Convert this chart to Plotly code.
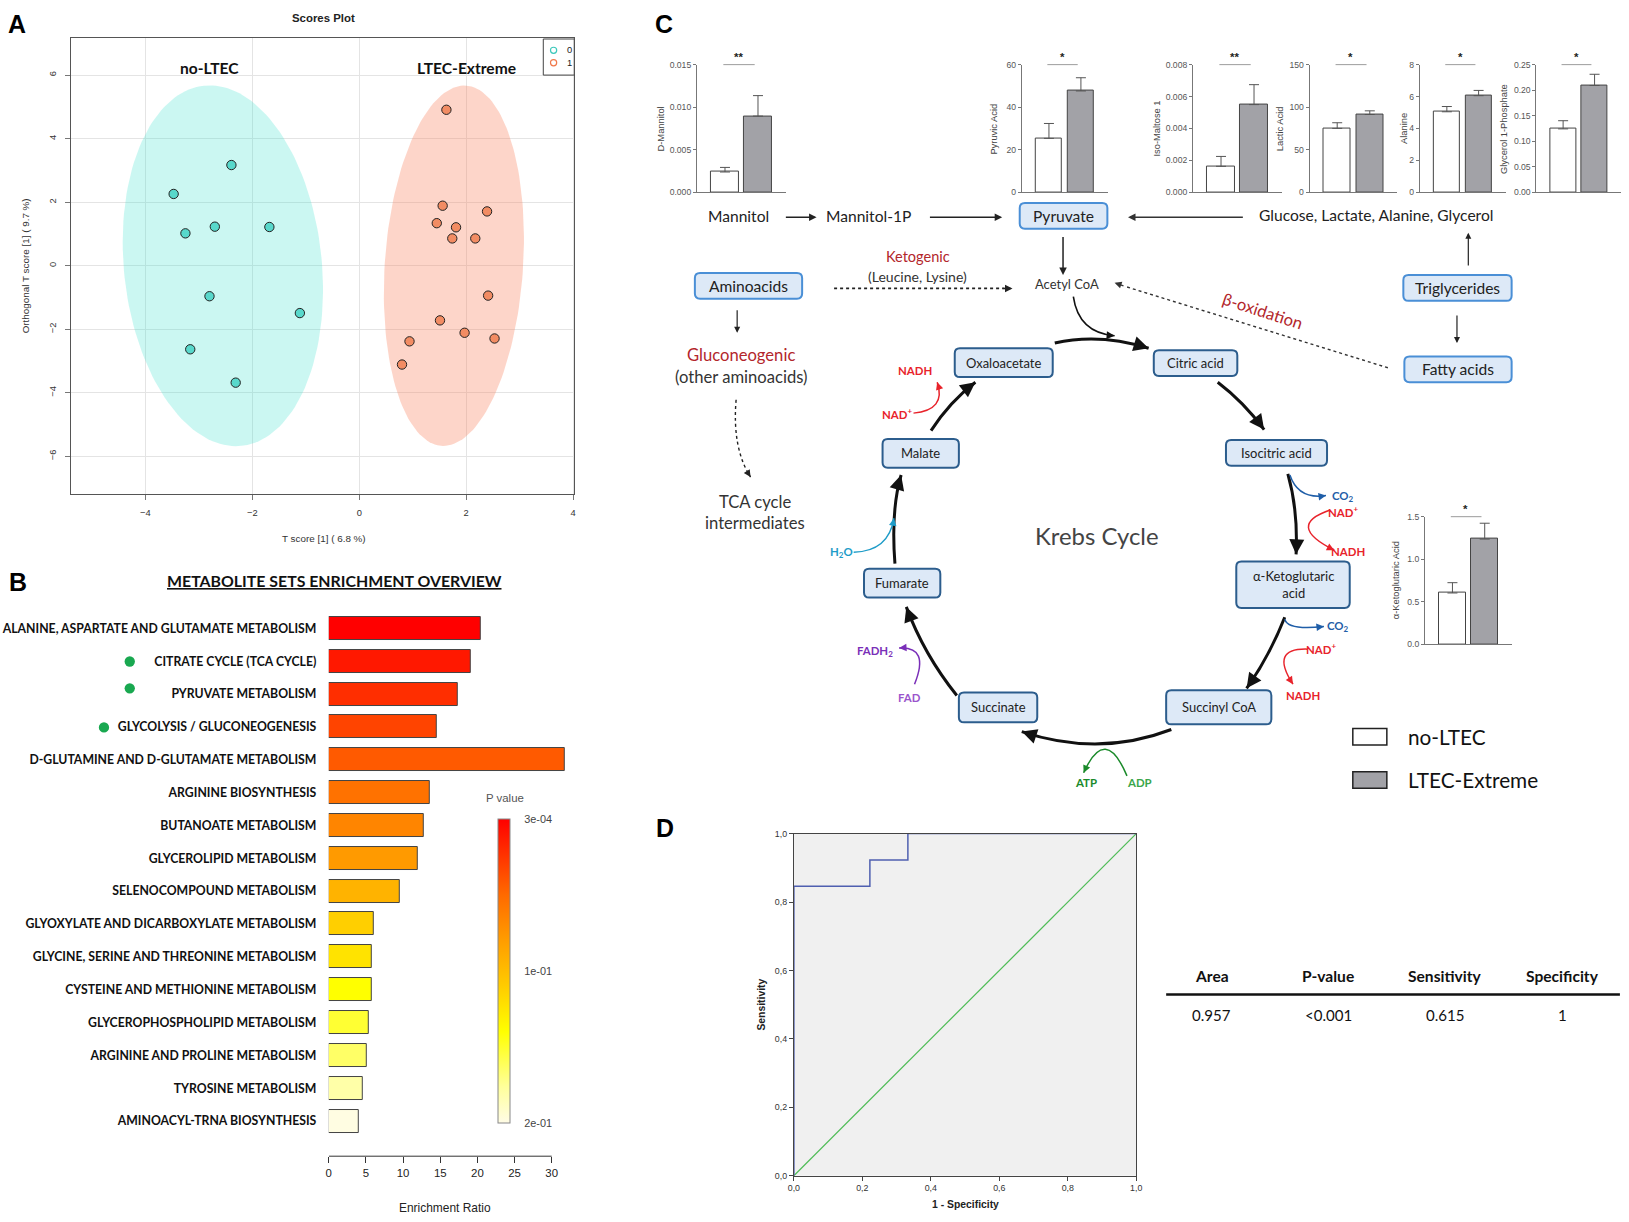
import math
import numpy as np
import plotly.graph_objects as go

W, H = 1629, 1222
W0, H0 = 1568.0, 1176.0
S = W / W0


def X(x):
    return x / W0


def Y(y):
    return 1.0 - y / H0


def fs(v):
    return v * S


def cl(v):
    return min(1.0, max(0.0, v))


SANS = "Liberation Sans, Arial, sans-serif"
LATO = "Lato, 'Open Sans', sans-serif"

# ---------------- Panel A data (OPLS-DA scores) ----------------
a_noltec_x = [-2.39, -3.47, -3.25, -2.70, -1.68, -2.80, -1.11, -3.16, -2.31]
a_noltec_y = [3.17, 2.26, 1.02, 1.23, 1.22, -0.96, -1.49, -2.63, -3.68]
a_ltec_x = [1.63, 1.56, 2.39, 1.45, 1.81, 1.74, 2.17, 2.41, 1.51, 1.97, 0.94, 2.53, 0.80]
a_ltec_y = [4.91, 1.89, 1.71, 1.34, 1.21, 0.86, 0.86, -0.94, -1.72, -2.11, -2.38, -2.29, -3.11]
# confidence ellipses: centre, major half-axis vector, minor half-axis vector
ell_noltec = dict(c=(-2.55, 0.0), a=(-0.35, 5.67), b=(1.84, 0.32))
ell_ltec = dict(c=(1.77, 0.0), a=(0.23, 5.67), b=(1.29, -0.15))

# ---------------- Panel B data (enrichment) ----------------
b_sets = [
    "ALANINE, ASPARTATE AND GLUTAMATE METABOLISM",
    "CITRATE CYCLE (TCA CYCLE)",
    "PYRUVATE METABOLISM",
    "GLYCOLYSIS / GLUCONEOGENESIS",
    "D-GLUTAMINE AND D-GLUTAMATE METABOLISM",
    "ARGININE BIOSYNTHESIS",
    "BUTANOATE METABOLISM",
    "GLYCEROLIPID METABOLISM",
    "SELENOCOMPOUND METABOLISM",
    "GLYOXYLATE AND DICARBOXYLATE METABOLISM",
    "GLYCINE, SERINE AND THREONINE METABOLISM",
    "CYSTEINE AND METHIONINE METABOLISM",
    "GLYCEROPHOSPHOLIPID METABOLISM",
    "ARGININE AND PROLINE METABOLISM",
    "TYROSINE METABOLISM",
    "AMINOACYL-TRNA BIOSYNTHESIS",
]
b_ratio = [20.5, 19.1, 17.3, 14.6, 31.8, 13.6, 12.8, 12.0, 9.6, 6.0, 5.85, 5.85, 5.35, 5.05, 4.6, 4.0]
b_xticks = [0, 5, 10, 15, 20, 25, 30]
b_pval_ticktext = ["2e-01", "1e-01", "3e-04"]
b_bar_colors = ["#ff0000", "#ff1800", "#ff2e00", "#ff4400", "#ff5a00", "#ff7200", "#ff8500",
                "#ff9a00", "#ffb300", "#ffcf00", "#ffe300", "#ffff00", "#ffff33", "#ffff66",
                "#ffffa8", "#fffde2"]

# ---------------- Panel C data (mini bar charts) ----------------
c_metabolites = ["D-Mannitol", "Pyruvic Acid", "Iso-Maltose 1", "Lactic Acid", "Alanine",
                 "Glycerol 1-Phosphate", "α-Ketoglutaric Acid"]
c_groups = ["no-LTEC", "LTEC-Extreme"]
c_noltec_mean = [0.00237, 25.3, 0.00162, 75.0, 5.04, 0.124, 0.602]
c_noltec_err = [0.00054, 7.0, 0.00062, 6.6, 0.33, 0.016, 0.121]
c_ltec_mean = [0.00894, 47.6, 0.00549, 91.3, 6.05, 0.209, 1.236]
c_ltec_err = [0.00241, 6.2, 0.00125, 4.3, 0.33, 0.022, 0.186]
c_sig = ["**", "*", "**", "*", "*", "*", "*"]
c_ymax = [0.015, 60, 0.008, 150, 8, 0.25, 1.5]
c_dtick = [0.005, 20, 0.002, 50, 2, 0.05, 0.5]
c_tickformat = [".3f", "d", ".3f", "d", "d", ".2f", ".1f"]

# ---------------- Panel D data (ROC) ----------------
roc_fpr = [0.0, 0.0, 0.222, 0.333, 1.0]
roc_tpr = [0.0, 0.846, 0.923, 1.0, 1.0]
roc_ticks = [0, 0.2, 0.4, 0.6, 0.8, 1.0]
roc_ticktext = ["0,0", "0,2", "0,4", "0,6", "0,8", "1,0"]
tbl_headers = ["Area", "P-value", "Sensitivity", "Specificity"]
tbl_values = ["0.957", "<0.001", "0.615", "1"]

fig = go.Figure()
shapes = []
ann = []
axes = {}


def text(x, y, s, size, color="#222", family=LATO, bold=False, angle=0, xanchor="center", yanchor="middle"):
    ann.append(dict(x=X(x), y=Y(y), xref="paper", yref="paper",
                    text=f"<b>{s}</b>" if bold else s, showarrow=False,
                    font=dict(size=fs(size), color=color, family=family),
                    textangle=angle, xanchor=xanchor, yanchor=yanchor))


def arrow(x0, y0, x1, y1, color="#222", width=1.5, size=1.0, head=2):
    ann.append(dict(x=X(x1), y=Y(y1), xref="paper", yref="paper",
                    ax=(x0 - x1) * S, ay=(y0 - y1) * S, text="", showarrow=True,
                    arrowhead=head, arrowsize=size, arrowwidth=width, arrowcolor=color))


def line(x0, y0, x1, y1, color="#222", width=1.5, dash=None):
    shapes.append(dict(type="line", xref="paper", yref="paper", x0=X(x0), y0=Y(y0), x1=X(x1), y1=Y(y1),
                       line=dict(color=color, width=width, dash=dash)))


def curve(p0, c, p1, color="#222", width=1.5, head=True, size=1.0, dash=None, tail=4.0):
    path = f"M {X(p0[0])},{Y(p0[1])} Q {X(c[0])},{Y(c[1])} {X(p1[0])},{Y(p1[1])}"
    shapes.append(dict(type="path", path=path, xref="paper", yref="paper",
                       line=dict(color=color, width=width, dash=dash)))
    if head:
        dx, dy = c[0] - p1[0], c[1] - p1[1]
        L = math.hypot(dx, dy)
        k = tail / L
        arrow(p1[0] + dx * k, p1[1] + dy * k, p1[0], p1[1], color, width, size)


def rbox(x0, y0, x1, y1, label, size, border, bw, fill="#dde9f7", r=5, color="#222"):
    rx, ry = r / W0, r / H0
    a, b, c, d = X(x0), X(x1), Y(y0), Y(y1)
    path = (f"M {a+rx},{c} L {b-rx},{c} Q {b},{c} {b},{c-ry} L {b},{d+ry} Q {b},{d} {b-rx},{d} "
            f"L {a+rx},{d} Q {a},{d} {a},{d+ry} L {a},{c-ry} Q {a},{c} {a+rx},{c} Z")
    shapes.append(dict(type="path", path=path, xref="paper", yref="paper", fillcolor=fill,
                       line=dict(color=border, width=bw), layer="above"))
    text((x0 + x1) / 2, (y0 + y1) / 2, label, size, color)


# =================== Panel A ===================
def ellipse_xy(e, n=160):
    t = np.linspace(0, 2 * np.pi, n)
    xs = e["c"][0] + np.cos(t) * e["a"][0] + np.sin(t) * e["b"][0]
    ys = e["c"][1] + np.cos(t) * e["a"][1] + np.sin(t) * e["b"][1]
    return xs, ys


for e, col in [(ell_noltec, "rgba(64,224,208,0.27)"), (ell_ltec, "rgba(250,128,90,0.33)")]:
    ex, ey = ellipse_xy(e)
    fig.add_trace(go.Scatter(x=ex, y=ey, mode="lines", fill="toself", fillcolor=col,
                             line=dict(width=0), hoverinfo="skip", xaxis="x", yaxis="y"))
fig.add_trace(go.Scatter(x=a_noltec_x, y=a_noltec_y, mode="markers", xaxis="x", yaxis="y",
                         marker=dict(size=fs(9), color="#58d8cb", line=dict(color="#222", width=1))))
fig.add_trace(go.Scatter(x=a_ltec_x, y=a_ltec_y, mode="markers", xaxis="x", yaxis="y",
                         marker=dict(size=fs(9), color="#f28c63", line=dict(color="#222", width=1))))

axes["xaxis"] = dict(domain=[X(63), X(551)], range=[-5.39, 4.02], tickvals=[-4, -2, 0, 2, 4],
                     showgrid=True, gridcolor="#e4e4e4", zeroline=False, showline=True, mirror=True,
                     linecolor="#555", linewidth=1.2, ticks="outside", ticklen=5, tickcolor="#777",
                     ticklabelstandoff=5,
                     tickfont=dict(size=fs(9), family=SANS, color="#333"), anchor="y")
axes["yaxis"] = dict(domain=[Y(474), Y(32)], range=[-7.17, 7.17], tickvals=[-6, -4, -2, 0, 2, 4, 6],
                     tickangle=-90, showgrid=True, gridcolor="#e4e4e4", zeroline=False, showline=True,
                     mirror=True, linecolor="#555", linewidth=1.2, ticks="outside", ticklen=5,
                     ticklabelstandoff=5,
                     tickcolor="#777", tickfont=dict(size=fs(9), family=SANS, color="#333"), anchor="x")
text(11, 3, "A", 24, "#000", SANS, bold=True, yanchor="top")
text(308, 13, "Scores Plot", 11, "#222", SANS, bold=True)
text(197, 61, "no-LTEC", 15, "#111", LATO, bold=True)
text(447, 61, "LTEC-Extreme", 15, "#111", LATO, bold=True)
text(308, 518, "T score [1] ( 6.8 %)", 9.5, "#333", SANS)
text(19, 253, "Orthogonal T score [1] ( 9.7 %)", 9.5, "#333", SANS, angle=-90)
shapes.append(dict(type="rect", xref="paper", yref="paper", x0=X(521), x1=X(551), y0=Y(68), y1=Y(33),
                   line=dict(color="#444", width=1), fillcolor="white"))
for yy, col, lab in [(44, "#3cc8bb", "0"), (56, "#f0784a", "1")]:
    shapes.append(dict(type="circle", xref="paper", yref="paper", x0=X(528), x1=X(534), y0=Y(yy + 3), y1=Y(yy - 3),
                       line=dict(color=col, width=1.2)))
    text(542, yy, lab, 9, "#222", SANS, xanchor="left")

# =================== Panel B ===================
fig.add_trace(go.Bar(x=b_ratio, y=list(range(len(b_sets))), orientation="h", width=0.7,
                     marker=dict(color=b_bar_colors, line=dict(color="#444", width=1)),
                     xaxis="x2", yaxis="y2"))
fig.add_trace(go.Scatter(x=[0, 0], y=[0, 0], mode="markers", xaxis="x2", yaxis="y2", hoverinfo="skip",
                         marker=dict(size=1, opacity=0, color=[0, 1], cmin=0, cmax=1,
                                     colorscale=[[0, "#fffce6"], [0.12, "#ffff9a"], [0.3, "#ffff00"],
                                                 [0.45, "#ffcc00"], [0.6, "#ff9d00"], [0.75, "#ff6a00"],
                                                 [0.88, "#ff3300"], [1, "#ff0000"]],
                                     showscale=True,
                                     colorbar=dict(x=X(477), xanchor="left", y=Y(1085), yanchor="bottom",
                                                   len=Y(790) - Y(1085), lenmode="fraction",
                                                   thickness=12 * S, xpad=0, ypad=0,
                                                   outlinecolor="#888", outlinewidth=1,
                                                   tickvals=[0, 0.5, 1], ticktext=b_pval_ticktext,
                                                   ticks="outside", ticklen=12, tickcolor="rgba(0,0,0,0)",
                                                   tickfont=dict(size=fs(10.5), family=SANS, color="#444")))))
text(484, 769, "P value", 11, "#555", SANS)
axes["xaxis2"] = dict(domain=[X(313), X(545)], range=[0, 32.2], tickvals=b_xticks, showgrid=False,
                      zeroline=False, showline=False, ticks="outside", ticklen=6, tickcolor="#333",
                      tickfont=dict(size=fs(11), family=SANS, color="#222"), anchor="y2")
axes["yaxis2"] = dict(domain=[Y(1117), Y(589)], range=[16.07, -0.5], tickvals=list(range(len(b_sets))),
                      ticktext=b_sets, showgrid=False, zeroline=False, showline=False, ticks="outside",
                      ticklen=9, tickcolor="rgba(0,0,0,0)",
                      tickfont=dict(size=fs(11.8), family=LATO, color="#111", weight="bold"), anchor="x2")
shapes.append(dict(type="line", xref="x2", yref="paper", x0=0, x1=30, y0=Y(1117), y1=Y(1117),
                   line=dict(color="#333", width=1)))
for (cx, cy) in [(120, 637), (120, 663), (95, 701)]:
    shapes.append(dict(type="circle", xref="paper", yref="paper", x0=X(cx - 5), x1=X(cx + 5),
                       y0=Y(cy + 5), y1=Y(cy - 5), fillcolor="#19a850", line=dict(width=0)))
text(12, 544, "B", 24, "#000", SANS, bold=True, yanchor="top")
text(319, 558, "<u>METABOLITE SETS ENRICHMENT OVERVIEW</u>", 15.3, "#111", LATO, bold=True)
text(426, 1167, "Enrichment Ratio", 11.5, "#222", SANS)

# =================== Panel C mini bar charts ===================
mini_axis_x = [670, 985, 1151, 1264, 1371, 1484, 1376]
mini_spacing = [32, 31, 32, 31.6, 30.8, 30.5, 31.3]
mini_top = [57.8, 57.8, 57.8, 57.8, 57.8, 57.8, 496.4]
mini_h = 123.8
title_x = [635, 958, 1116, 1235, 1355, 1452, 1348]
title_y = [120, 120, 120, 120, 120, 120, 558]

for i, name in enumerate(c_metabolites):
    k = i + 3
    xa, ya = f"x{k}", f"y{k}"
    fig.add_trace(go.Bar(x=[0, 1], y=[c_noltec_mean[i], c_ltec_mean[i]], width=0.83,
                         marker=dict(color=["white", "#a2a2a7"], line=dict(color="#444", width=1)),
                         error_y=dict(type="data", symmetric=False, array=[c_noltec_err[i], c_ltec_err[i]],
                                      arrayminus=[0, 0], color="#555", thickness=1, width=5),
                         xaxis=xa, yaxis=ya))
    x0 = mini_axis_x[i]
    w = 2.7 * mini_spacing[i]
    top = mini_top[i]
    d0, d1 = X(x0), X(x0 + w)
    d1c = cl(d1)
    r1 = -0.85 + 2.7 * (d1c - d0) / (d1 - d0)
    axes[f"xaxis{k}"] = dict(domain=[d0, d1c], range=[-0.85, r1], showticklabels=False,
                             ticks="", showline=True, linecolor="#777", linewidth=1, showgrid=False,
                             zeroline=False, anchor=ya)
    axes[f"yaxis{k}"] = dict(domain=[Y(top + mini_h), Y(top)], range=[0, c_ymax[i]], dtick=c_dtick[i],
                             tickformat=c_tickformat[i], ticks="outside", ticklen=3, tickcolor="#777",
                             showline=True, linecolor="#777", linewidth=1, showgrid=False, zeroline=False,
                             tickfont=dict(size=fs(8.3), family=SANS, color="#555"), anchor=xa)
    shapes.append(dict(type="line", xref=xa, yref=ya, x0=-0.05, x1=0.9, y0=c_ymax[i], y1=c_ymax[i],
                       line=dict(color="#333", width=0.9)))
    ann.append(dict(x=0.42, y=c_ymax[i], xref=xa, yref=ya, text=f"<b>{c_sig[i]}</b>", showarrow=False,
                    yshift=8, font=dict(size=fs(11), family=SANS, color="#222")))
    text(title_x[i], title_y[i], name, 9, "#444", SANS, angle=-90)

# =================== Panel C diagram ===================
text(638, 3, "C", 24, "#000", SANS, bold=True, yanchor="top")
RED = "#b3262b"
BRIGHT_RED = "#e8232b"
BLUE = "#1f5ea8"
OUT_B = "#4a8fd6"
IN_B = "#2c5d8d"

text(710, 205, "Mannitol", 15)
arrow(755, 206, 786, 206, "#222", 1.5, 1.0)
text(836, 205, "Mannitol-1P", 15)
arrow(895, 206, 966, 206, "#222", 1.5, 1.0)
rbox(983, 192, 1068, 217, "Pyruvate", 15, OUT_B, 2)
arrow(1200, 206, 1088, 206, "#333", 1.5, 1.0)
text(1328, 204, "Glucose, Lactate, Alanine, Glycerol", 15)
arrow(1025, 224, 1025, 262, "#222", 1.5, 1.0)
text(1029, 271, "Acetyl CoA", 12.5, "#333")
text(884, 244, "Ketogenic", 14, RED)
text(884, 263, "(Leucine, Lysine)", 13.5, "#333")
line(803, 275, 968, 275, "#222", 1.6, "dot")
arrow(966, 275, 976, 275, "#222", 1.5, 1.0)
rbox(668, 260, 772, 285, "Aminoacids", 15, OUT_B, 2)
arrow(709, 295, 709, 318, "#222", 1.2, 1.0)
text(713, 340, "Gluconeogenic", 16, RED)
text(713, 361, "(other aminoacids)", 16, "#333")
curve((708, 383), (704, 430), (722, 458), "#222", 1.4, True, 1.0, "dot", tail=8)
text(726, 482, "TCA cycle", 16, "#333")
text(726, 503, "intermediates", 16, "#333")
rbox(1355, 262, 1460, 287, "Triglycerides", 15, OUT_B, 2)
arrow(1418, 254, 1418, 221, "#222", 1.2, 1.0)
arrow(1407, 300, 1407, 328, "#222", 1.2, 1.0)
rbox(1356, 341, 1460, 366, "Fatty acids", 15, OUT_B, 2)
line(1340, 352, 1085, 273, "#333", 1.4, "dot")
arrow(1085, 273, 1075, 269.5, "#333", 1.4, 1.0)
text(1218, 297, "β-oxidation", 16, RED, angle=18)

# Krebs cycle nodes
rbox(920, 333, 1015, 361, "Oxaloacetate", 12.5, IN_B, 2)
rbox(1113, 335, 1194, 360, "Citric acid", 12.5, IN_B, 2)
rbox(1183, 422, 1281, 447, "Isocitric acid", 12.5, IN_B, 2)
rbox(1193, 540, 1303, 585, "α-Ketoglutaric<br>acid", 12.5, IN_B, 2)
rbox(1125, 665, 1227, 698, "Succinyl CoA", 12.5, IN_B, 2)
rbox(924, 667, 1000, 696, "Succinate", 12.5, IN_B, 2)
rbox(832, 547, 906, 575, "Fumarate", 12.5, IN_B, 2)
rbox(850, 421, 924, 449, "Malate", 12.5, IN_B, 2)
text(1058, 515, "Krebs Cycle", 23, "#444")

# cycle arrows
CW = 3
curve((1017, 328), (1060, 318), (1108, 333), "#111", CW, True, 1.0, tail=12)
curve((1035, 283), (1040, 318), (1075, 321), "#111", 1.6, True, 1.0, tail=8)
curve((1175, 366), (1200, 385), (1220, 412), "#111", CW, True, 1.0, tail=12)
curve((1243, 455), (1253, 490), (1251, 533), "#111", CW, True, 1.0, tail=12)
curve((1240, 594), (1225, 632), (1203, 663), "#111", CW, True, 1.0, tail=12)
curve((1130, 703), (1060, 730), (985, 705), "#111", CW, True, 1.0, tail=12)
curve((922, 670), (890, 630), (873, 584), "#111", CW, True, 1.0, tail=12)
curve((862, 542), (858, 490), (868, 456), "#111", CW, True, 1.0, tail=12)
curve((897, 413), (915, 385), (940, 366), "#111", CW, True, 1.0, tail=12)

# cofactors
text(881, 355, "<b>NADH</b>", 11, BRIGHT_RED)
text(864, 396, "<b>NAD<sup>+</sup></b>", 11, BRIGHT_RED)
curve((880, 396), (912, 393), (903, 366), BRIGHT_RED, 1.5, True, 1.0, tail=6)
curve((1245, 456), (1253, 480), (1280, 476), BLUE, 1.5, True, 1.0, tail=6)
text(1296, 477, "<b>CO<sub>2</sub></b>", 11, BLUE)
text(1296, 491, "<b>NAD<sup>+</sup></b>", 11, BRIGHT_RED)
curve((1284, 490), (1240, 505), (1288, 529), BRIGHT_RED, 1.5, True, 1.0, tail=6)
text(1301, 530, "<b>NADH</b>", 11, BRIGHT_RED)
curve((1240, 596), (1243, 607), (1278, 603), BLUE, 1.5, True, 1.0, tail=6)
text(1292, 603, "<b>CO<sub>2</sub></b>", 11, BLUE)
text(1275, 624, "<b>NAD<sup>+</sup></b>", 11, BRIGHT_RED)
curve((1262, 625), (1225, 624), (1248, 659), BRIGHT_RED, 1.5, True, 1.0, tail=6)
text(1258, 670, "<b>NADH</b>", 11, BRIGHT_RED)
text(843, 627, "<b>FADH<sub>2</sub></b>", 11, "#7a2fb8")
text(876, 672, "<b>FAD</b>", 11, "#9a55cc")
curve((881, 659), (896, 622), (866, 624), "#7a2fb8", 1.5, True, 1.0, tail=6)
text(810, 531, "<b>H<sub>2</sub>O</b>", 11, "#1e9cc8")
curve((822, 531), (856, 530), (861, 498), "#1e9cc8", 1.5, True, 1.0, tail=6)
curve((1087, 748), (1066, 698), (1045, 745), "#1a8a2a", 1.5, True, 1.0, tail=6)
text(1047, 754, "<b>ATP</b>", 11, "#1a8a2a")
text(1099, 754, "<b>ADP</b>", 11, "#3aa64a")

# legend for bar charts
shapes.append(dict(type="rect", xref="paper", yref="paper", x0=X(1306), x1=X(1339), y0=Y(718), y1=Y(702),
                   fillcolor="white", line=dict(color="#222", width=1.5)))
shapes.append(dict(type="rect", xref="paper", yref="paper", x0=X(1306), x1=X(1339), y0=Y(760), y1=Y(744),
                   fillcolor="#a2a2a7", line=dict(color="#222", width=1.5)))
text(1358, 710, c_groups[0], 20, "#111", LATO, xanchor="left")
text(1358, 752, c_groups[1], 20, "#111", LATO, xanchor="left")

# =================== Panel D ===================
text(639, 783, "D", 24, "#000", SANS, bold=True, yanchor="top")
fig.add_trace(go.Scatter(x=[0, 1], y=[0, 1], mode="lines", line=dict(color="#4dbb55", width=1.2),
                         xaxis="x10", yaxis="y10"))
fig.add_trace(go.Scatter(x=roc_fpr, y=roc_tpr, mode="lines", line=dict(color="#4f5fb0", width=1.5, shape="hv"),
                         xaxis="x10", yaxis="y10"))
shapes.append(dict(type="rect", xref="x10 domain", yref="y10 domain", x0=0, x1=1, y0=0, y1=1,
                   fillcolor="#f0f0f0", line=dict(width=0), layer="below"))
axes["xaxis10"] = dict(domain=[X(764), X(1096)], range=[0, 1], tickvals=roc_ticks, ticktext=roc_ticktext,
                       showgrid=False, zeroline=False, showline=True, mirror=True, linecolor="#444",
                       linewidth=1, ticks="outside", ticklen=4, tickcolor="#444",
                       tickfont=dict(size=fs(8.5), family=SANS, color="#333"), anchor="y10")
axes["yaxis10"] = dict(domain=[Y(1136), Y(804)], range=[0, 1], tickvals=roc_ticks, ticktext=roc_ticktext,
                       showgrid=False, zeroline=False, showline=True, mirror=True, linecolor="#444",
                       linewidth=1, ticks="outside", ticklen=4, tickcolor="#444",
                       tickfont=dict(size=fs(8.5), family=SANS, color="#333"), anchor="x10")
text(733, 970, "Sensitivity", 10, "#222", SANS, bold=True, angle=-90)
text(930, 1164, "1 - Specificity", 10, "#222", SANS, bold=True)

tbl_x = [1169, 1282, 1395, 1509]
for xx, hd, vv in zip(tbl_x, tbl_headers, tbl_values):
    text(xx, 942, hd, 15, "#111", LATO, bold=True)
    text(xx, 980, vv, 14.5, "#111", LATO)
line(1125, 960, 1565, 960, "#111", 2.5)

fig.update_layout(width=W, height=H, margin=dict(l=0, r=0, t=0, b=0), paper_bgcolor="white",
                  plot_bgcolor="rgba(0,0,0,0)", showlegend=False, shapes=shapes, annotations=ann,
                  bargap=0, **axes)
fig.write_html("out.html", config={"displayModeBar": False},
               post_script=("document.documentElement.style.margin='0';document.body.style.margin='0';"
                            "document.documentElement.style.overflow='hidden';"
                            "document.body.style.overflow='hidden';"))
